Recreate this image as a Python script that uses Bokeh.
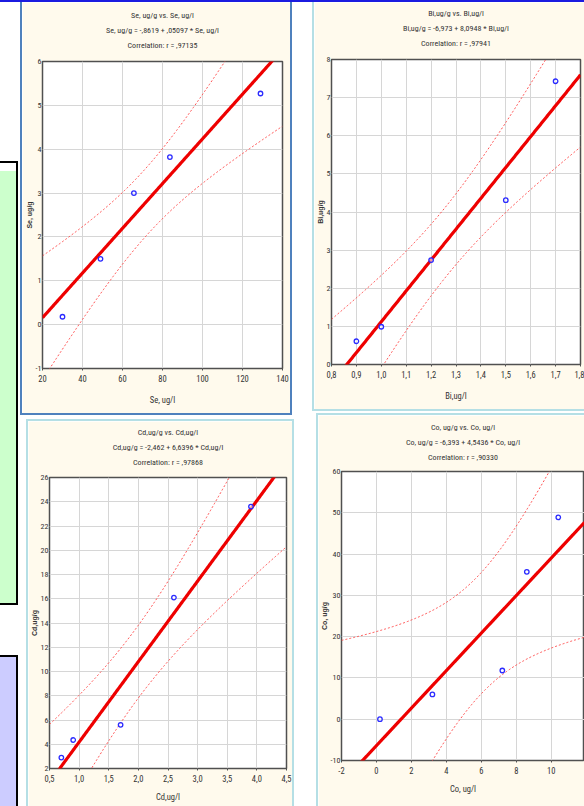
import numpy as np
from bokeh.plotting import figure
from bokeh.layouts import column, row
from bokeh.models import Spacer, Title, FixedTicker, CustomJSTickFormatter, Range1d
from bokeh.embed import file_html
from bokeh.resources import INLINE

# ---------------- data ----------------
se_x = [30, 49, 65.7, 83.7, 129]
se_y = [0.18, 1.5, 3.0, 3.82, 5.27]
se_fit = [-0.8619, 0.05097]
se_titles = ["Se, ug/g vs. Se, ug/l", "Se, ug/g = -,8619 + ,05097 * Se, ug/l", "Correlation: r = ,97135"]
se_xlabel = "Se, ug/l"
se_ylabel = "Se, ug/g"
se_xrange = [20, 140]
se_yrange = [-1, 6]
se_xticks = [20, 40, 60, 80, 100, 120, 140]
se_yticks = [-1, 0, 1, 2, 3, 4, 5, 6]

bi_x = [0.9, 1.0, 1.2, 1.5, 1.7]
bi_y = [0.61, 0.99, 2.74, 4.31, 7.43]
bi_fit = [-6.973, 8.0948]
bi_titles = ["Bi,ug/g vs. Bi,ug/l", "Bi,ug/g = -6,973 + 8,0948 * Bi,ug/l", "Correlation: r = ,97941"]
bi_xlabel = "Bi,ug/l"
bi_ylabel = "Bi,ug/g"
bi_xrange = [0.8, 1.8]
bi_yrange = [0, 8]
bi_xticks = [0.8, 0.9, 1.0, 1.1, 1.2, 1.3, 1.4, 1.5, 1.6, 1.7, 1.8]
bi_yticks = [0, 1, 2, 3, 4, 5, 6, 7, 8]

cd_x = [0.7, 0.9, 1.7, 2.6, 3.9]
cd_y = [2.9, 4.35, 5.6, 16.1, 23.6]
cd_fit = [-2.462, 6.6396]
cd_titles = ["Cd,ug/g vs. Cd,ug/l", "Cd,ug/g = -2,462 + 6,6396 * Cd,ug/l", "Correlation: r = ,97868"]
cd_xlabel = "Cd,ug/l"
cd_ylabel = "Cd,ug/g"
cd_xrange = [0.5, 4.5]
cd_yrange = [2, 26]
cd_xticks = [0.5, 1.0, 1.5, 2.0, 2.5, 3.0, 3.5, 4.0, 4.5]
cd_yticks = [2, 4, 6, 8, 10, 12, 14, 16, 18, 20, 22, 24, 26]

co_x = [0.2, 3.2, 7.2, 8.6, 10.4]
co_y = [0.0, 6.0, 11.8, 35.7, 48.9]
co_fit = [-6.393, 4.5436]
co_titles = ["Co, ug/g vs. Co, ug/l", "Co, ug/g = -6,393 + 4,5436 * Co, ug/l", "Correlation: r = ,90330"]
co_xlabel = "Co, ug/l"
co_ylabel = "Co, ug/g"
co_xrange = [-2, 11.9]
co_yrange = [-10, 60]
co_xticks = [-2, 0, 2, 4, 6, 8, 10, 12]
co_yticks = [-10, 0, 10, 20, 30, 40, 50, 60]

T95_DF3 = 3.182446  # Student t, 95 %, 3 degrees of freedom

# ---------------- style ----------------
CREAM = "#fffaed"
SE_BORDER = "#4f81bd"
CYAN = "#b5dfe5"
TOPLINE = "#1b1be0"
GREEN = "#ccffcc"
PURPLE = "#ccccff"
BLACK = "#000000"
NARROW = "'Liberation Sans Narrow', 'Roboto Condensed', 'DejaVu Sans Condensed', 'Liberation Sans', sans-serif"
SANS = "'Liberation Sans', Arial, sans-serif"
TXT = "#333333"


def strip(x0, x1, y0, y1, color=None):
    kw = {}
    if color:
        kw["styles"] = {"background-color": color}
    return Spacer(width=x1 - x0, height=y1 - y0, **kw)


def build_fig(xs, ys, fit, titles, xlabel, ylabel, xr, yr, xt, yt, xdec, ydec,
              inner, frame, title_gap, xlab_standoff):
    ix0, ix1, iy0, iy1 = inner
    fx0, fx1, fy0, fy1 = frame
    p = figure(width=ix1 - ix0, height=iy1 - iy0,
               x_range=Range1d(xr[0], xr[1]), y_range=Range1d(yr[0], yr[1]),
               output_backend="svg", toolbar_location=None, title=None,
               min_border_left=fx0 - ix0, min_border_right=ix1 - fx1,
               min_border_top=fy0 - iy0, min_border_bottom=iy1 - fy1,
               background_fill_color="white", border_fill_color=CREAM,
               outline_line_color="#505050", outline_line_width=1.5)
    for ax, ticks, dec in ((p.xaxis[0], xt, xdec), (p.yaxis[0], yt, ydec)):
        ax.ticker = FixedTicker(ticks=ticks)
        ax.formatter = CustomJSTickFormatter(args=dict(d=dec),
                                             code="return tick.toFixed(d).replace('.', ',')")
        ax.major_label_text_font = NARROW
        ax.major_label_text_color = TXT
        ax.axis_line_color = None
        ax.major_tick_line_color = "#505050"
        ax.major_tick_in = 0
        ax.minor_tick_line_color = None
        ax.axis_label_text_color = TXT
    p.xaxis.major_label_text_font_size = "8.5px"
    p.yaxis.major_label_text_font_size = "8px"
    p.xaxis.major_tick_out = 2
    p.yaxis.major_tick_out = 0
    p.xaxis.major_label_standoff = 4
    p.yaxis.major_label_standoff = 1
    p.xaxis.axis_label = xlabel
    p.xaxis.axis_label_text_font = NARROW
    p.xaxis.axis_label_text_font_size = "8.5px"
    p.xaxis.axis_label_text_font_style = "normal"
    p.xaxis.axis_label_standoff = xlab_standoff
    p.grid.grid_line_color = "#d6d6d6"
    p.grid.grid_line_width = 1

    # vertical axis title, read bottom to top, next to the tick labels
    p.add_layout(Title(text=ylabel, align="center", text_font=SANS, text_font_size="7px",
                       text_font_style="bold", text_color=TXT, standoff=0), "left")

    # thin spacer between the frame and the three title lines
    p.add_layout(Title(text=" ", text_font_size="1px", standoff=title_gap), "above")
    for t in reversed(titles):
        p.add_layout(Title(text=t, align="center", text_font=NARROW, text_font_size="8px",
                           text_font_style="normal", text_color=TXT, standoff=4), "above")

    # regression line and 95% confidence band computed from the points
    x = np.asarray(xs, float)
    y = np.asarray(ys, float)
    a, b = fit
    n = len(x)
    s = np.sqrt(np.sum((y - (a + b * x)) ** 2) / (n - 2))
    xm = x.mean()
    sxx = np.sum((x - xm) ** 2)
    gx = np.linspace(xr[0], xr[1], 300)
    gy = a + b * gx
    band = T95_DF3 * s * np.sqrt(1.0 / n + (gx - xm) ** 2 / sxx)
    p.line(gx, gy + band, line_color="#ff5050", line_width=1, line_dash="2 2")
    p.line(gx, gy - band, line_color="#ff5050", line_width=1, line_dash="2 2")
    p.line(gx, gy, line_color="#ee0000", line_width=3.2)
    p.scatter(xs, ys, marker="circle", size=4.5, line_color="#2b2bff", line_width=1.3,
              fill_color="white", fill_alpha=0.6)
    return p


def panel(outer, bw, color, fig_args):
    x0, x1, y0, y1 = outer
    l, t, r, b = bw
    ix0, ix1, iy0, iy1 = x0 + l, x1 - r, y0 + t, y1 - b
    p = build_fig(inner=(ix0, ix1, iy0, iy1), **fig_args)
    mid = []
    if l:
        mid.append(strip(x0, ix0, iy0, iy1, color))
    mid.append(p)
    if r:
        mid.append(strip(ix1, x1, iy0, iy1, color))
    middle = row(*mid) if len(mid) > 1 else p
    parts = []
    if t:
        parts.append(strip(x0, x1, y0, iy0, color))
    parts.append(middle)
    if b:
        parts.append(strip(x0, x1, iy1, y1, color))
    return column(*parts) if len(parts) > 1 else middle


se_panel = panel((20, 292, 2, 415), (2, 0, 2, 2), SE_BORDER, dict(
    xs=se_x, ys=se_y, fit=se_fit, titles=se_titles, xlabel=se_xlabel, ylabel=se_ylabel,
    xr=se_xrange, yr=se_yrange, xt=se_xticks, yt=se_yticks, xdec=0, ydec=0,
    frame=(42, 282, 61, 368), title_gap=7, xlab_standoff=10))

cd_panel = panel((26, 294, 419, 806), (2, 2, 2, 0), CYAN, dict(
    xs=cd_x, ys=cd_y, fit=cd_fit, titles=cd_titles, xlabel=cd_xlabel, ylabel=cd_ylabel,
    xr=cd_xrange, yr=cd_yrange, xt=cd_xticks, yt=cd_yticks, xdec=1, ydec=0,
    frame=(49, 286, 477, 768), title_gap=6, xlab_standoff=7))

bi_panel = panel((312, 584, 2, 411), (2, 0, 0, 2), CYAN, dict(
    xs=bi_x, ys=bi_y, fit=bi_fit, titles=bi_titles, xlabel=bi_xlabel, ylabel=bi_ylabel,
    xr=bi_xrange, yr=bi_yrange, xt=bi_xticks, yt=bi_yticks, xdec=1, ydec=0,
    frame=(329, 580, 59, 364), title_gap=7, xlab_standoff=10))

co_panel = panel((316, 584, 413, 806), (2, 2, 0, 0), CYAN, dict(
    xs=co_x, ys=co_y, fit=co_fit, titles=co_titles, xlabel=co_xlabel, ylabel=co_ylabel,
    xr=co_xrange, yr=co_yrange, xt=co_xticks, yt=co_yticks, xdec=0, ydec=0,
    frame=(341, 584, 471, 760), title_gap=5, xlab_standoff=7))

green_box = column(
    strip(0, 18, 161, 163, BLACK),
    row(column(strip(0, 16, 163, 171, "#ffffff"), strip(0, 16, 171, 603, GREEN)),
        strip(16, 18, 163, 603, BLACK)),
    strip(0, 18, 603, 605, BLACK))
purple_box = column(
    strip(0, 18, 655, 657, BLACK),
    row(strip(0, 16, 657, 806, PURPLE), strip(16, 18, 657, 806, BLACK)))
decor = column(strip(0, 18, 2, 161), green_box, strip(0, 18, 605, 655), purple_box)

left_col = column(
    row(strip(18, 20, 2, 415), se_panel, strip(292, 312, 2, 415)),
    strip(18, 312, 415, 419),
    row(strip(18, 26, 419, 806), cd_panel, strip(294, 312, 419, 806)))

right_col = column(
    bi_panel,
    strip(312, 584, 411, 413),
    row(strip(312, 316, 413, 806), co_panel))

root = column(strip(0, 584, 0, 2, TOPLINE), row(decor, left_col, right_col))

open("out.html", "w").write(file_html(root, INLINE))
